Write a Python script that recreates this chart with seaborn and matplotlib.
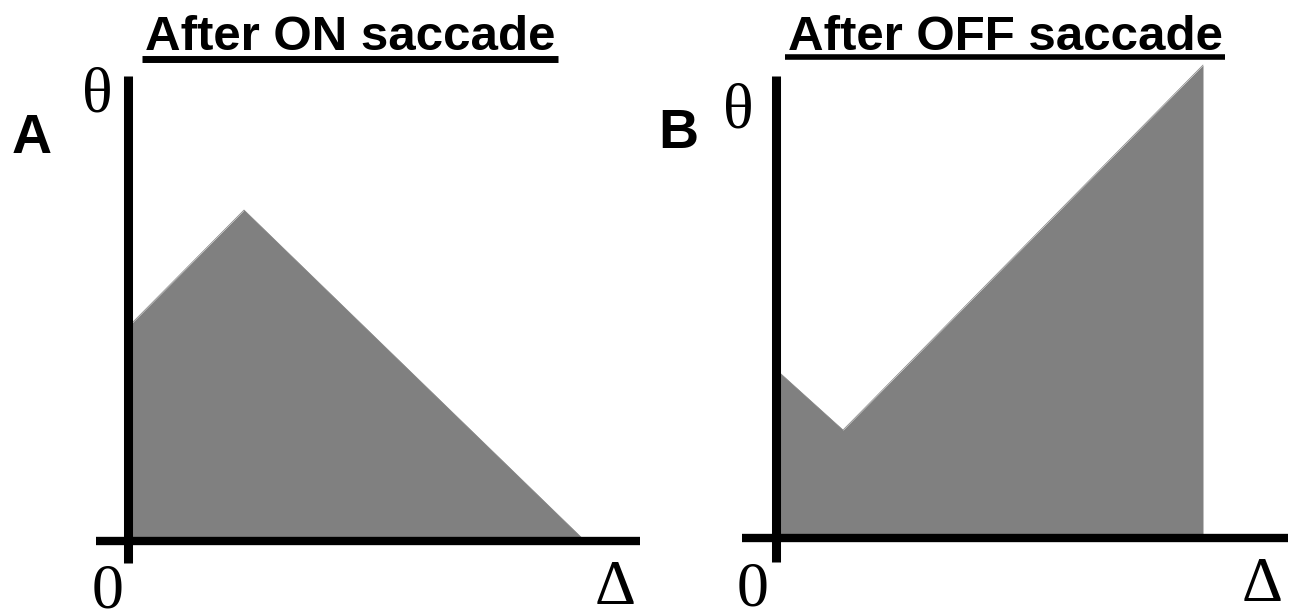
import matplotlib
matplotlib.use("Agg")
import matplotlib.pyplot as plt
from matplotlib.lines import Line2D
import seaborn as sns

# Data (arbitrary units: 1 unit ~ 100 px)
on_delta = [0.0, 1.165, 4.575]
on_theta = [2.135, 3.31, 0.0]

off_delta = [0.0, 0.675, 4.275]
off_theta = [1.685, 1.075, 4.725]

titles = ["After ON saccade", "After OFF saccade"]
panel_letters = ["A", "B"]

W, H = 1295, 614
GRAY = "#808080"

sns.set_style("white")
plt.rcParams["text.color"] = "black"

fig = plt.figure(figsize=(W / 100, H / 100), dpi=100)


def fx(px):
    return px / W


def fy(py):
    return 1 - py / H


def make_panel(origin, x_left, x_right, y_top, y_bottom):
    # axes placed so that data (0, 0) lands on the pixel origin
    ox, oy = origin
    ax = fig.add_axes([fx(x_left), fy(y_bottom), (x_right - x_left) / W, (y_bottom - y_top) / H])
    ax.set_xlim((x_left - ox) / 100, (x_right - ox) / 100)
    ax.set_ylim((oy - y_bottom) / 100, (oy - y_top) / 100)
    ax.patch.set_alpha(0)
    for s in ["top", "right"]:
        ax.spines[s].set_visible(False)
    ax.spines["left"].set_position(("data", 0))
    ax.spines["bottom"].set_position(("data", 0))
    ax.spines["left"].set_linewidth(6.5)
    ax.spines["bottom"].set_linewidth(6.0)
    for s in ["left", "bottom"]:
        ax.spines[s].set_color("black")
        ax.spines[s].set_capstyle("butt")
        ax.spines[s].set_zorder(5)
    ax.set_xticks([])
    ax.set_yticks([])
    return ax


ax_a = make_panel((127.5, 541), 96, 640, 76, 563)
ax_b = make_panel((775.5, 537.5), 742, 1288, 76, 562)

for ax, dx, th in [(ax_a, on_delta, on_theta), (ax_b, off_delta, off_theta)]:
    sns.lineplot(x=dx, y=th, ax=ax, color=GRAY, linewidth=0.5, clip_on=False)
    ax.fill_between(dx, th, 0, color=GRAY, linewidth=0, clip_on=False, zorder=2)

# Titles with underline
title_pos = [(350, 50), (1005, 50)]
underline_y = [58.5, 57]
underline_w = [5.0, 4.0]
title_objs = []
for t, (cx, by) in zip(titles, title_pos):
    title_objs.append(fig.text(fx(cx), fy(by), t, ha="center", va="baseline", color="black",
                               fontsize=35.5, fontweight="bold", family="Liberation Sans"))

fig.canvas.draw()
renderer = fig.canvas.get_renderer()
for tobj, uy, uw in zip(title_objs, underline_y, underline_w):
    bb = tobj.get_window_extent(renderer)
    fig.add_artist(Line2D([bb.x0 / W - 0.002, bb.x1 / W + 0.002], [fy(uy), fy(uy)],
                          color="black", linewidth=uw, solid_capstyle="butt"))

# Panel letters
for letter, (cx, by) in zip(panel_letters, [(32, 153), (678, 148)]):
    fig.text(fx(cx), fy(by), letter, ha="center", va="baseline", color="black",
             fontsize=40, fontweight="bold", family="Liberation Sans")

serif = dict(ha="center", va="baseline", fontsize=46, family="Liberation Serif", color="black")
# axis symbols
for (cx, by) in [(97, 112), (738, 127)]:
    fig.text(fx(cx), fy(by), "θ", **serif)
for (cx, by) in [(108, 608), (753, 606)]:
    fig.text(fx(cx), fy(by), "0", **serif)
for (cx, by) in [(615, 604), (1262, 601)]:
    fig.text(fx(cx), fy(by), "Δ", **serif)

fig.savefig("out.png", dpi=100)
